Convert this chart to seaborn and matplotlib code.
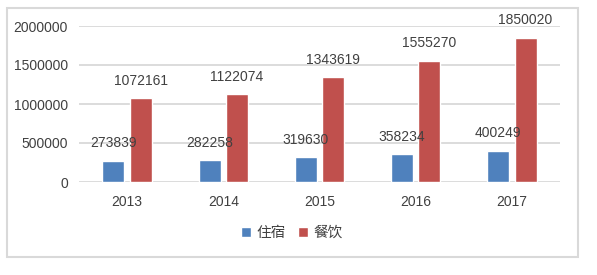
import numpy as np
import pandas as pd
import matplotlib
matplotlib.use('Agg')
import matplotlib.pyplot as plt
import seaborn as sns
from matplotlib.patches import Rectangle
from matplotlib.ticker import FuncFormatter

# dados do gráfico
anos = ['2013', '2014', '2015', '2016', '2017']
zhusu = [273839, 282258, 319630, 358234, 400249]
canyin = [1072161, 1122074, 1343619, 1555270, 1850020]
series = ['住宿', '餐饮']
cores = ['#4F81BD', '#C0504D']

df = pd.DataFrame({
    'ano': anos * 2,
    'valor': zhusu + canyin,
    'tipo': [series[0]] * len(anos) + [series[1]] * len(anos),
})

sns.set_style('white')
plt.rcParams['font.family'] = ['Liberation Sans', 'Noto Sans CJK SC', 'DejaVu Sans']

fig = plt.figure(figsize=(5.97, 2.75), dpi=100)
ax = fig.add_axes([79 / 597, 1 - 182 / 275, 481 / 597, 156 / 275])

sns.barplot(data=df, x='ano', y='valor', hue='tipo', palette=cores,
            width=0.57, gap=0.2, saturation=1, ax=ax, legend=True)

ax.set_ylim(0, 2000000)
ax.set_xlim(-0.5, 4.5)
ax.set_yticks(np.arange(0, 2000001, 500000))
ax.yaxis.set_major_formatter(FuncFormatter(lambda v, p: f'{int(v)}'))
ax.yaxis.grid(True, color='#d9d9d9', linewidth=1.3)
ax.set_axisbelow(True)
for s in ax.spines.values():
    s.set_visible(False)
ax.set_xlabel('')
ax.set_ylabel('')
ax.tick_params(axis='both', length=0, labelsize=10, colors='#404040')
ax.tick_params(axis='y', pad=8)
ax.tick_params(axis='x', pad=9)

# rótulos com os valores
for cont in ax.containers:
    for barra in cont:
        h = barra.get_height()
        ax.annotate(f'{int(h)}', (barra.get_x() + barra.get_width() / 2, h),
                    xytext=(0, 12.5), textcoords='offset points',
                    ha='center', va='center', fontsize=10, color='#404040')

leg = ax.legend(loc='center', bbox_to_anchor=(292 / 597, 1 - 233 / 275),
                bbox_transform=fig.transFigure, ncol=2, frameon=False,
                handlelength=0.7, handleheight=0.7, handletextpad=0.4,
                columnspacing=0.8, prop={'family': ['Noto Sans CJK SC'], 'size': 10.5})
for t in leg.get_texts():
    t.set_color('#404040')

# moldura do gráfico
fig.patches.append(Rectangle((7 / 597, 1 - 257 / 275), 571 / 597, 249 / 275,
                             transform=fig.transFigure, fill=False,
                             edgecolor='#d9d9d9', linewidth=1.5))

fig.savefig('out.png', dpi=100)
